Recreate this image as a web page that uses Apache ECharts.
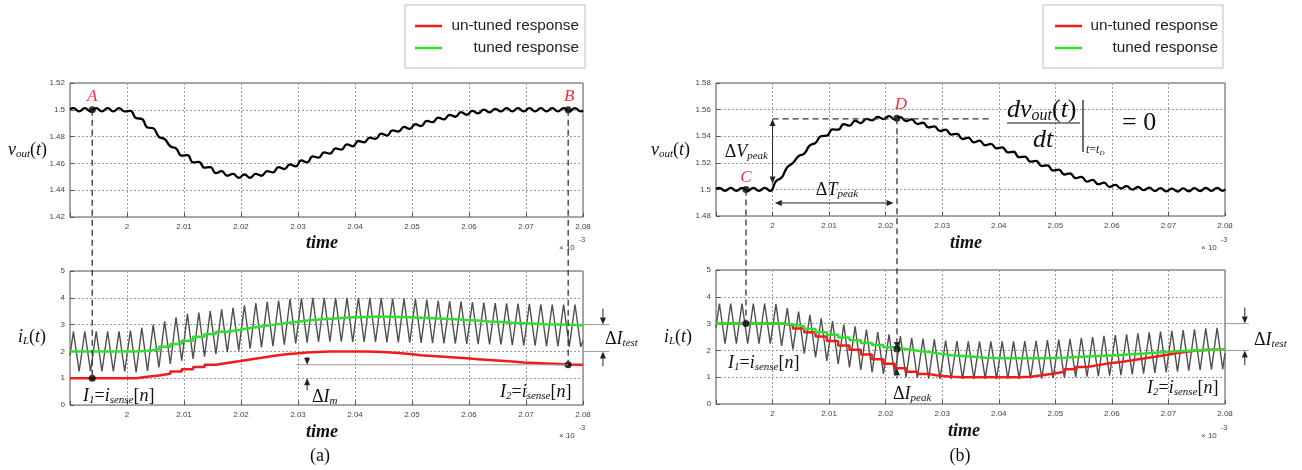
<!DOCTYPE html>
<html><head><meta charset="utf-8">
<script src="https://cdn.jsdelivr.net/npm/echarts@6/dist/echarts.min.js"></script>
<style>html,body{margin:0;padding:0;background:#fff}#c{width:1302px;height:470px}</style>
</head><body><div id="c"></div>
<script>
// ---------- DATA (time in units of 1e-3 s) ----------
const rippleT = [1.9900,1.9906,1.9916,1.9926,1.9936,1.9946,1.9956,1.9966,1.9976,1.9986,1.9996,
2.0006,2.0016,2.0026,2.0036,2.0046,2.0056,2.0066,2.0076,2.0086,2.0096,
2.0106,2.0116,2.0126,2.0136,2.0146,2.0156,2.0166,2.0176,2.0186,2.0196,
2.0206,2.0216,2.0226,2.0236,2.0246,2.0256,2.0266,2.0276,2.0286,2.0296,
2.0306,2.0316,2.0326,2.0336,2.0346,2.0356,2.0366,2.0376,2.0386,2.0396,
2.0406,2.0416,2.0426,2.0436,2.0446,2.0456,2.0466,2.0476,2.0486,2.0496,
2.0506,2.0516,2.0526,2.0536,2.0546,2.0556,2.0566,2.0576,2.0586,2.0596,
2.0606,2.0616,2.0626,2.0636,2.0646,2.0656,2.0666,2.0676,2.0686,2.0696,
2.0706,2.0716,2.0726,2.0736,2.0746,2.0756,2.0766,2.0776,2.0786,2.0796,
2.0800];

const voutA = [1.5004,
1.5012,1.4988,1.5012,1.4988,1.5012,1.4988,1.5012,1.4988,1.5012,1.4988,
1.4992,1.4938,1.4932,1.4868,1.4862,1.4798,1.4782,1.4728,1.4712,1.4658,
1.4662,1.4608,1.4612,1.4568,1.4572,1.4528,1.4542,1.4508,1.4522,1.4493,
1.4517,1.4493,1.4522,1.4508,1.4542,1.4533,1.4572,1.4558,1.4592,1.4578,
1.4622,1.4608,1.4652,1.4643,1.4682,1.4673,1.4712,1.4703,1.4742,1.4728,
1.4767,1.4758,1.4792,1.4783,1.4822,1.4808,1.4847,1.4838,1.4872,1.4858,
1.4892,1.4878,1.4917,1.4908,1.4942,1.4928,1.4962,1.4948,1.4982,1.4963,
1.4992,1.4973,1.5002,1.4981,1.5007,1.4988,1.5012,1.4988,1.5012,1.4988,
1.5012,1.4988,1.5012,1.4988,1.5012,1.4988,1.5012,1.4988,1.5012,1.4988,
1.4996];

const iLa = [1.85,
2.75,1.25,2.75,1.25,2.75,1.25,2.75,1.25,2.75,1.25,
2.78,1.22,2.88,1.27,3.0,1.4,3.12,1.53,3.27,1.65,
3.4,1.72,3.45,1.8,3.5,1.9,3.57,1.97,3.63,2.03,
3.72,2.1,3.8,2.15,3.85,2.2,3.9,2.25,3.95,2.3,
3.98,2.33,4.0,2.35,4.0,2.36,4.0,2.36,4.0,2.35,
4.0,2.35,4.0,2.35,3.99,2.34,3.98,2.34,3.97,2.33,
3.95,2.32,3.92,2.31,3.9,2.3,3.88,2.29,3.86,2.28,
3.84,2.27,3.82,2.26,3.8,2.25,3.79,2.23,3.78,2.22,
3.77,2.21,3.76,2.2,3.75,2.19,3.75,2.18,3.75,2.17,
2.4];

const voutB = [1.5003,
1.5011,1.4989,1.5011,1.4989,1.5011,1.4989,1.5011,1.4989,1.5011,1.4989,
1.5061,1.5089,1.5166,1.5199,1.5251,1.5269,1.5331,1.5349,1.5401,1.5404,
1.5451,1.5449,1.5491,1.5479,1.5516,1.5499,1.5531,1.5519,1.5546,1.5529,
1.5551,1.5526,1.5543,1.5514,1.5526,1.5492,1.5501,1.5466,1.5474,1.5439,
1.5449,1.5412,1.5418,1.5379,1.5389,1.5354,1.5366,1.5332,1.5343,1.5309,
1.5316,1.5279,1.5283,1.5243,1.5247,1.5209,1.5214,1.5175,1.5181,1.5142,
1.5148,1.5112,1.5121,1.5085,1.5094,1.5059,1.5071,1.5039,1.5051,1.5019,
1.5034,1.5007,1.5024,1.4999,1.5018,1.4994,1.5014,1.4989,1.5009,1.4985,
1.5006,1.4984,1.5007,1.4986,1.5009,1.4988,1.5011,1.4989,1.5011,1.4989,
1.5003];

const iLb = [2.85,
3.75,2.25,3.75,2.25,3.75,2.25,3.75,2.25,3.75,2.25,
3.73,2.17,3.58,2.04,3.45,1.88,3.33,1.74,3.2,1.61,
3.09,1.49,2.96,1.37,2.9,1.27,2.78,1.18,2.68,1.12,
2.6,1.06,2.53,1.0,2.47,0.97,2.44,0.95,2.41,0.94,
2.37,0.94,2.35,0.94,2.34,0.94,2.34,0.94,2.34,0.94,
2.34,0.94,2.34,0.94,2.35,0.95,2.36,0.95,2.38,0.96,
2.4,0.98,2.43,1.0,2.47,1.02,2.5,1.04,2.54,1.06,
2.57,1.08,2.6,1.1,2.64,1.13,2.67,1.16,2.7,1.18,
2.73,1.21,2.76,1.24,2.79,1.26,2.82,1.28,2.84,1.3,
1.9];

const sampleT = [1.99, 2.0016,2.0036,2.0056,2.0076,2.0096, 2.0116,2.0136,2.0156,2.0176,2.0196,
2.0216,2.0236,2.0256,2.0276,2.0296, 2.0316,2.0336,2.0356,2.0376,2.0396,
2.0416,2.0436,2.0456,2.0476,2.0496, 2.0516,2.0536,2.0556,2.0576,2.0596,
2.0616,2.0636,2.0656,2.0676,2.0696, 2.0716,2.0736,2.0756,2.0776,2.0796, 2.08];

const redA = [1.0, 1.05,1.1,1.17,1.25,1.33, 1.42,1.5,1.57,1.63,1.7, 1.76,1.83,1.88,1.92,1.96,
1.98,2.0,2.0,2.0,2.0, 1.99,1.97,1.94,1.9,1.86, 1.83,1.8,1.77,1.74,1.71,
1.68,1.65,1.62,1.59,1.57, 1.55,1.53,1.51,1.5,1.49, 1.49];
const greenA = [2.0, 2.02,2.07,2.17,2.28,2.4, 2.55,2.65,2.73,2.8,2.87, 2.93,2.99,3.05,3.1,3.15,
3.19,3.22,3.25,3.27,3.28, 3.29,3.29,3.28,3.27,3.26, 3.24,3.22,3.2,3.17,3.15,
3.12,3.1,3.07,3.05,3.03, 3.01,3.0,2.99,2.98,2.98, 2.98];
const redB = [3.0, 2.95,2.82,2.68,2.52,2.35, 2.18,2.02,1.85,1.67,1.5, 1.33,1.2,1.12,1.05,1.02,
1.0,1.0,1.0,1.0,1.0, 1.0,1.02,1.07,1.13,1.2, 1.3,1.38,1.45,1.52,1.57,
1.63,1.7,1.76,1.83,1.9, 1.96,2.01,2.02,2.03,2.04, 2.04];
const greenB = [3.0, 2.97,2.9,2.8,2.68,2.58, 2.48,2.38,2.28,2.2,2.12, 2.05,1.99,1.94,1.88,1.82,
1.79,1.76,1.73,1.72,1.71, 1.71,1.71,1.71,1.72,1.73, 1.75,1.77,1.79,1.81,1.83,
1.86,1.88,1.91,1.94,1.97, 1.99,2.01,2.02,2.03,2.04, 2.04];

const xTicks = {min:1.99, max:2.08, step:0.01};
const vTicksA = {min:1.42, max:1.52, step:0.02};
const vTicksB = {min:1.48, max:1.58, step:0.02};
const iTicks = {min:0, max:5, step:1};

const legendNames = ['un-tuned response', 'tuned response'];
// annotation points [time, value]
const ptA = [1.9939, 1.5], ptA2 = [1.9939, 1.0];
const ptB = [2.0774, 1.5], ptB2 = [2.0774, 1.5];
const ptC = [1.9953, 1.5], ptC2 = [1.9953, 3.0];
const ptD = [2.022, 1.5535], ptD2 = [2.022, 2.05];
const dImT = 2.0316, dImLevels = [1.5, 1.0];
const dItestLevels = [3.0, 2.0];
const dIpeakLevels = [2.05, 1.33];
const dVpeak = [2.0, 1.5045, 1.553];
const dTpeak = [2.0004, 2.0214, 1.4898];

// ---------- CHART ----------
const SERIF = '"Liberation Serif","DejaVu Serif",serif';
const SANS = '"Liberation Sans",Arial,sans-serif';
const zip = (a, b) => a.map((t, i) => [t, b[i]]);
const fmt = v => String(parseFloat(v.toFixed(2)));

const grids = [
  {left:70, top:83, width:513, height:134},
  {left:70, top:271, width:513, height:134},
  {left:716, top:83, width:509, height:133},
  {left:716, top:270, width:509, height:134}
].map(g => Object.assign(g, {show:true, borderColor:'#555', borderWidth:1, backgroundColor:'#fff'}));

const tick = {show:true, inside:true, length:4, lineStyle:{color:'#555'}};
const split = {show:true, lineStyle:{color:'#9a9a9a', type:[2,2], width:1}};
function xAx(g) {
  return {type:'value', gridIndex:g, min:xTicks.min, max:xTicks.max, interval:xTicks.step,
    axisLine:{show:false}, axisTick:tick, splitLine:split,
    axisLabel:{fontSize:8, color:'#444', fontFamily:SANS, margin:6, hideOverlap:false,
      formatter: v => Math.abs(v - xTicks.min) < 1e-6 ? '' : fmt(v)}};
}
function yAx(g, t) {
  return {type:'value', gridIndex:g, min:t.min, max:t.max, interval:t.step,
    axisLine:{show:false}, axisTick:tick, splitLine:split,
    axisLabel:{fontSize:8, color:'#444', fontFamily:SANS, margin:5, formatter: fmt}};
}
const RED = '#f01c1c', GREEN = '#2ee02e';
function lineS(idx, data, color, width, extra) {
  return Object.assign({type:'line', xAxisIndex:idx, yAxisIndex:idx, data, showSymbol:false,
    symbol:'none', lineStyle:{color, width}, z:3, silent:true}, extra || {});
}
function dots(idx, data) {
  return {type:'scatter', xAxisIndex:idx, yAxisIndex:idx, data, symbolSize:7,
    itemStyle:{color:'#000'}, z:10, silent:true};
}

const option = {
  animation:false,
  backgroundColor:'#fff',
  grid: grids,
  xAxis: [xAx(0), xAx(1), xAx(2), xAx(3)],
  yAxis: [yAx(0, vTicksA), yAx(1, iTicks), yAx(2, vTicksB), yAx(3, iTicks)],
  series: [
    lineS(0, zip(rippleT, voutA), '#000', 2.3, {smooth:0.5}),
    lineS(1, zip(rippleT, iLa), '#505050', 1.4),
    lineS(1, zip(sampleT, redA), RED, 2.5, {step:'end', z:4}),
    lineS(1, zip(sampleT, greenA), GREEN, 2.5, {step:'end', z:5}),
    dots(0, [ptA, ptB]),
    dots(1, [ptA2, ptB2]),
    lineS(2, zip(rippleT, voutB), '#000', 2.3, {smooth:0.5}),
    lineS(3, zip(rippleT, iLb), '#505050', 1.4),
    lineS(3, zip(sampleT, redB), RED, 2.5, {step:'end', z:4}),
    lineS(3, zip(sampleT, greenB), GREEN, 2.5, {step:'end', z:5}),
    dots(2, [ptC, ptD]),
    dots(3, [ptC2, ptD2])
  ]
};

const chart = echarts.init(document.getElementById('c'));
chart.setOption(option);

// ---------- ANNOTATIONS ----------
const px = (g, p) => chart.convertToPixel({gridIndex:g}, p);
const G = [];
function seg(p0, p1, style) {
  G.push({type:'line', silent:true, z:50, shape:{x1:p0[0], y1:p0[1], x2:p1[0], y2:p1[1]},
    style:Object.assign({stroke:'#333', lineWidth:1}, style || {})});
}
function arrow(p0, p1, col) {
  col = col || '#222';
  const dx = p1[0]-p0[0], dy = p1[1]-p0[1], L = Math.hypot(dx, dy), ux = dx/L, uy = dy/L;
  const hl = 7, hw = 3;
  const bx = p1[0]-ux*hl, by = p1[1]-uy*hl;
  seg(p0, [bx, by], {stroke:col, lineWidth:1});
  G.push({type:'polygon', silent:true, z:51, shape:{points:[[p1[0], p1[1]], [bx-uy*hw, by+ux*hw], [bx+uy*hw, by-ux*hw]]},
    style:{fill:col}});
}
function dArrow(p0, p1, col) {
  const m = [(p0[0]+p1[0])/2, (p0[1]+p1[1])/2];
  arrow(m, p0, col); arrow(m, p1, col);
}
function rich(sz) {
  return {
    i:{fontFamily:SERIF, fontStyle:'italic', fontSize:sz, lineHeight:sz+2, fill:'#111'},
    n:{fontFamily:SERIF, fontSize:sz, lineHeight:sz+2, fill:'#111'},
    s:{fontFamily:SERIF, fontStyle:'italic', fontSize:Math.round(sz*0.62), lineHeight:Math.round(sz*0.62), verticalAlign:'bottom', fill:'#111'},
    b:{fontFamily:SERIF, fontStyle:'italic', fontWeight:'bold', fontSize:sz, lineHeight:sz+2, fill:'#111'}
  };
}
function txt(x, y, text, sz, align, extra) {
  G.push({type:'text', silent:true, z:60, x, y,
    style:Object.assign({text, rich:rich(sz), align:align||'left', textAlign:align||'left',
      verticalAlign:'middle', textVerticalAlign:'middle', fontFamily:SERIF, fontSize:sz, fill:'#111'}, extra || {})});
}
function plain(x, y, text, font, align, fill, extra) {
  G.push({type:'text', silent:true, z:60, x, y,
    style:Object.assign({text, font, align:align||'left', textAlign:align||'left', verticalAlign:'middle', textVerticalAlign:'middle', fill:fill||'#222'}, extra||{})});
}

// dashed guide lines
const dash = {lineDash:[6,4], stroke:'#333', lineWidth:1.3};
seg(px(0, ptA), px(1, ptA2), dash);
seg(px(0, ptB), px(1, ptB2), dash);
seg(px(2, ptC), px(3, ptC2), dash);
seg(px(2, ptD), px(3, [ptD[0], 2.35]), dash);
seg(px(2, [dVpeak[0], dVpeak[2]]), px(2, [2.0385, dVpeak[2]]), dash);

// delta I_m (a)
seg(px(1, [2.0297, dImLevels[0]]), px(1, [ptB2[0], dImLevels[0]]), {stroke:'#999', lineWidth:1});
arrow(px(1, [dImT, 1.8]), px(1, [dImT, dImLevels[0]]));
arrow(px(1, [dImT, 0.55]), px(1, [dImT, dImLevels[1]]));
// delta I_test (a) & (b)
[[1, 2.0835, 2.0846], [3, 2.0835, 2.0842]].forEach(([g, t, tEnd]) => {
  seg(px(g, [2.08, dItestLevels[0]]), px(g, [tEnd, dItestLevels[0]]), {stroke:'#999', lineWidth:1});
  seg(px(g, [2.08, dItestLevels[1]]), px(g, [tEnd, dItestLevels[1]]), {stroke:'#999', lineWidth:1});
  arrow(px(g, [t, 3.6]), px(g, [t, dItestLevels[0]]));
  arrow(px(g, [t, 1.45]), px(g, [t, dItestLevels[1]]));
});
// delta I_peak (b)
arrow(px(3, [ptD[0], 2.35]), px(3, [ptD[0], dIpeakLevels[0]]));
seg(px(3, [ptD[0], dIpeakLevels[0]]), px(3, [ptD[0], dIpeakLevels[1]]), {stroke:'#555', lineWidth:1});
arrow(px(3, [ptD[0], 0.95]), px(3, [ptD[0], dIpeakLevels[1]]));
// delta V_peak, delta T_peak (b)
dArrow(px(2, [dVpeak[0], dVpeak[1]]), px(2, [dVpeak[0], dVpeak[2]]));
dArrow(px(2, [dTpeak[0], dTpeak[2]]), px(2, [dTpeak[1], dTpeak[2]]));

// point labels
const ptLab = (g, p, s, dx, dy) => { const q = px(g, p);
  plain(q[0]+dx, q[1]+dy, s, 'italic 17px ' + SERIF, 'center', '#f0303a'); };
ptLab(0, ptA, 'A', 0, -13);
ptLab(0, ptB, 'B', 1, -13);
ptLab(2, ptC, 'C', 0, -12);
ptLab(2, ptD, 'D', 4, -14);

// legends
[[405, 415, 579], [1043, 1055, 1218]].forEach(([bx, lx, tx]) => {
  G.push({type:'rect', silent:true, z:40, shape:{x:bx, y:5, width:180, height:63}, style:{fill:'#fff', stroke:'#bdbdbd', lineWidth:1}});
  seg([lx, 26], [lx+27, 26], {stroke:RED, lineWidth:2.5});
  seg([lx, 48], [lx+27, 48], {stroke:GREEN, lineWidth:2.5});
  plain(tx, 26, legendNames[0], '15.3px ' + SANS, 'right', '#222');
  plain(tx, 48, legendNames[1], '15.3px ' + SANS, 'right', '#222');
});

// axis titles
txt(8, 150, '{i|v}{s|out}{n|(}{i|t}{n|)}', 18);
txt(651, 150, '{i|v}{s|out}{n|(}{i|t}{n|)}', 18);
txt(18, 337, '{i|i}{s|L}{n|(}{i|t}{n|)}', 18);
txt(664, 337, '{i|i}{s|L}{n|(}{i|t}{n|)}', 18);
[[322, 243], [322, 432], [966, 243], [964, 431]].forEach(([x, y]) => txt(x, y, '{b|time}', 18, 'center'));
[[559, 248, 579, 240], [559, 436, 579, 428], [1201, 248, 1221, 240], [1201, 436, 1221, 428]].forEach(([x, y, x2, y2]) => {
  plain(x, y, '× 10', '8px ' + SANS, 'left', '#444');
  plain(x2, y2, '-3', '7px ' + SANS, 'left', '#444');
});
txt(320, 456, '{n|(a)}', 18, 'center');
txt(960, 456, '{n|(b)}', 18, 'center');

// I1 / I2 labels
const Ilab = k => '{i|I}{s|' + k + '}{n|=}{i|i}{s|sense}{n|[}{i|n}{n|]}';
txt(83, 396, Ilab(1), 18);
txt(500, 392, Ilab(2), 18);
txt(728, 363, Ilab(1), 18);
txt(1147, 388, Ilab(2), 18);
// deltas
txt(312, 397, '{n|Δ}{i|I}{s|m}', 18);
txt(605, 339, '{n|Δ}{i|I}{s|test}', 18);
txt(1254, 340, '{n|Δ}{i|I}{s|test}', 18);
txt(893, 394, '{n|Δ}{i|I}{s|peak}', 18);
txt(768, 152, '{n|Δ}{i|V}{s|peak}', 18, 'right');
txt(837, 190, '{n|Δ}{i|T}{s|peak}', 18, 'center');

// formula dv_out(t)/dt |_{t=t_D} = 0
txt(1007, 110, '{i|dv}{s|out}{n|(}{i|t}{n|)}', 26);
seg([1007, 123], [1080, 123], {stroke:'#111', lineWidth:1.2});
txt(1043, 140, '{i|dt}', 26, 'center');
seg([1083, 100], [1083, 152], {stroke:'#111', lineWidth:1.2});
txt(1086, 150, '{i|t}{n|=}{i|t}{s|D}', 12);
txt(1122, 123, '{n|= 0}', 26);

chart.setOption({graphic:{elements:G}});
</script>
</body></html>
